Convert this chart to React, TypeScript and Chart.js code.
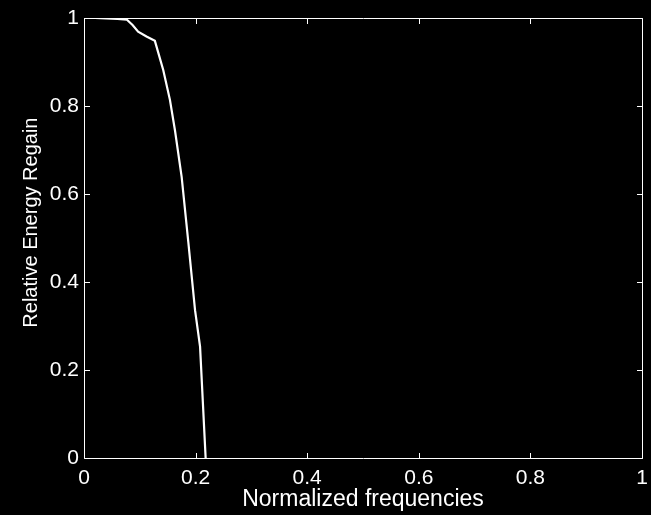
import React, { useEffect, useRef } from "react";
import { Chart, registerables } from "chart.js";

Chart.register(...registerables);

// Normalized frequency samples and the relative energy regained at each one
const freq = [0, 0.02, 0.04, 0.06, 0.077, 0.087, 0.097, 0.112, 0.127, 0.142, 0.154, 0.163, 0.175, 0.187, 0.199, 0.208, 0.218];
const energy = [1, 1, 0.999, 0.998, 0.996, 0.984, 0.969, 0.958, 0.948, 0.882, 0.814, 0.745, 0.639, 0.49, 0.336, 0.253, 0];

const xTicks = [0, 0.2, 0.4, 0.6, 0.8, 1];
const yTicks = [0, 0.2, 0.4, 0.6, 0.8, 1];
const xTickLabels = ["0", "0.2", "0.4", "0.6", "0.8", "1"];
const yTickLabels = ["0", "0.2", "0.4", "0.6", "0.8", "1"];

const xTitle = "Normalized frequencies";
const yTitle = "Relative Energy Regain";

const FONT = "'Liberation Sans', Arial, Helvetica, sans-serif";
const W = 651;
const H = 515;

// Black backdrop, a MATLAB-style box with inward ticks on all four sides,
// and the vertical axis label set a little above the axis midpoint
const boxPlugin = {
  id: "boxFrame",
  beforeDraw(chart: Chart) {
    const { ctx } = chart;
    ctx.save();
    ctx.fillStyle = "#000";
    ctx.fillRect(0, 0, chart.width, chart.height);
    ctx.restore();
  },
  afterDatasetsDraw(chart: Chart) {
    const { ctx, chartArea: a, scales } = chart;
    const xs = scales.x;
    const ys = scales.y;
    const len = 5.5;
    ctx.save();
    ctx.strokeStyle = "#fff";
    ctx.lineWidth = 1;
    const l = Math.round(a.left) + 0.5;
    const r = Math.round(a.right) + 0.5;
    const t = Math.round(a.top) + 0.5;
    const b = Math.round(a.bottom) + 0.5;
    ctx.beginPath();
    ctx.rect(l, t, r - l, b - t);
    ctx.stroke();
    ctx.beginPath();
    xTicks.forEach((v) => {
      const px = Math.round(xs.getPixelForValue(v)) + 0.5;
      ctx.moveTo(px, b);
      ctx.lineTo(px, b - len);
      ctx.moveTo(px, t);
      ctx.lineTo(px, t + len);
    });
    yTicks.forEach((v) => {
      const py = Math.round(ys.getPixelForValue(v)) + 0.5;
      ctx.moveTo(l, py);
      ctx.lineTo(l + len, py);
      ctx.moveTo(r, py);
      ctx.lineTo(r - len, py);
    });
    ctx.stroke();

    // rotated y-axis title
    ctx.fillStyle = "#fff";
    ctx.font = `20px ${FONT}`;
    ctx.textAlign = "center";
    ctx.textBaseline = "alphabetic";
    ctx.translate(36.5, ys.getPixelForValue(0.535));
    ctx.rotate(-Math.PI / 2);
    ctx.fillText(yTitle, 0, 0);
    ctx.restore();
  },
};

export default function App() {
  const canvasRef = useRef<HTMLCanvasElement | null>(null);

  useEffect(() => {
    const canvas = canvasRef.current;
    if (!canvas) return;
    const chart = new Chart(canvas, {
      type: "line",
      data: {
        datasets: [
          {
            data: freq.map((f, i) => ({ x: f, y: energy[i] })),
            borderColor: "#fff",
            borderWidth: 2.2,
            pointRadius: 0,
            tension: 0,
            fill: false,
          },
        ],
      },
      options: {
        animation: false,
        responsive: false,
        maintainAspectRatio: false,
        layout: { padding: { top: 18, right: 9, left: 0, bottom: 0 } },
        plugins: { legend: { display: false }, tooltip: { enabled: false } },
        scales: {
          x: {
            type: "linear",
            min: 0,
            max: 1,
            afterFit: (s: any) => {
              s.height = 57;
              s.paddingLeft = 0;
              s.paddingRight = 0;
            },
            afterBuildTicks: (s: any) => {
              s.ticks = xTicks.map((v) => ({ value: v }));
            },
            grid: { display: false, drawTicks: false },
            border: { display: false },
            ticks: {
              color: "#fff",
              font: { family: FONT, size: 21 },
              padding: 8,
              maxRotation: 0,
              autoSkip: false,
              callback: (_v: any, i: number) => xTickLabels[i],
            },
            title: {
              display: true,
              text: xTitle,
              color: "#fff",
              font: { family: FONT, size: 23 },
              padding: { top: 0, bottom: 2 },
            },
          },
          y: {
            type: "linear",
            min: 0,
            max: 1,
            afterFit: (s: any) => {
              s.width = 84;
              s.paddingTop = 0;
              s.paddingBottom = 0;
            },
            afterBuildTicks: (s: any) => {
              s.ticks = yTicks.map((v) => ({ value: v }));
            },
            grid: { display: false, drawTicks: false },
            border: { display: false },
            ticks: {
              color: "#fff",
              font: { family: FONT, size: 21 },
              padding: 5,
              autoSkip: false,
              callback: (_v: any, i: number) => yTickLabels[i],
            },
          },
        },
      },
      plugins: [boxPlugin],
    });
    return () => chart.destroy();
  }, []);

  return (
    <div style={{ position: "fixed", left: 0, top: 0, width: W, height: H, background: "#000" }}>
      <canvas ref={canvasRef} width={W} height={H} style={{ display: "block", width: W, height: H }} />
    </div>
  );
}
